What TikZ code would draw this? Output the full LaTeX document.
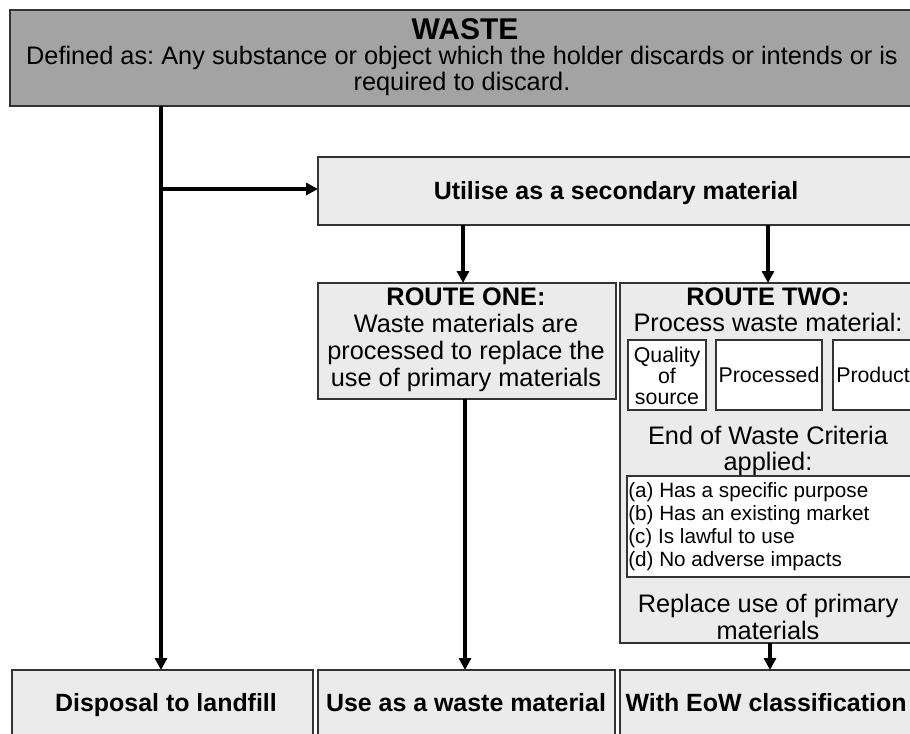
\documentclass[tikz,border=0pt]{standalone}
\usepackage{fontspec}
\setmainfont{Liberation Sans}
\usetikzlibrary{arrows.meta}
\definecolor{headgray}{HTML}{A3A3A3}
\definecolor{boxgray}{HTML}{EBEBEB}
\definecolor{edgegray}{HTML}{333333}
\tikzset{
  panel/.style={draw=edgegray, line width=1.2pt, fill=boxgray},
  headpanel/.style={draw=edgegray, line width=1.2pt, fill=headgray},
  whitebox/.style={draw=edgegray, line width=1.2pt, fill=white},
  flow/.style={line width=3.6pt, -{Triangle[width=9pt,length=9pt]}},
  plain/.style={inner sep=0pt, align=center},
  big/.style={font=\fontsize{19}{19.8}\selectfont},
  bigbold/.style={font=\bfseries\fontsize{18.7}{20}\selectfont},
  small/.style={font=\fontsize{16}{16}\selectfont},
}
\begin{document}
\frenchspacing
\begin{tikzpicture}[x=0.75pt,y=-0.75pt]
\useasboundingbox (0,0) rectangle (910,733);
\clip (0,0) rectangle (910,733);

% boxes
\path[headpanel] (10,10) rectangle (915,106);
\path[panel] (318,157) rectangle (915,225);
\path[panel] (318,283) rectangle (616,399);
\path[panel] (620,283) rectangle (915,643);
\path[whitebox] (628,340) rectangle (706,410);
\path[whitebox] (716,340) rectangle (822,410);
\path[whitebox] (833,340) rectangle (915,410);
\path[whitebox] (627,476) rectangle (915,577);
\path[panel] (12,670) rectangle (313,740);
\path[panel] (318,670) rectangle (615,740);
\path[panel] (620,670) rectangle (915,740);

% anchors for connectors
\coordinate (wasteB) at (161,106);
\coordinate (branch) at (161,189);
\coordinate (utilL) at (318,189);
\coordinate (utilB1) at (463,225);
\coordinate (utilB2) at (768,225);
\coordinate (r1T) at (463,283);
\coordinate (r2T) at (768,283);
\coordinate (r1B) at (465,399);
\coordinate (r2B) at (770,643);
\coordinate (landT) at (161,670);
\coordinate (useT) at (465,670);
\coordinate (eowT) at (770,670);

% texts
\node[plain, font=\bfseries\fontsize{22.5}{23}\selectfont, anchor=base] (waste) at (465,39) {WASTE};
\node[plain, font=\fontsize{19}{19.5}\selectfont, anchor=base] (def) at (462,90) {Defined as: Any substance or object which the holder discards or intends or is\\required to discard.};
\node[plain, bigbold] (util) at (616,193) {Utilise as a secondary material};
\node[plain, font=\fontsize{19}{20.3}\selectfont] (r1) at (466,340) {\textbf{ROUTE ONE:}\\Waste materials are\\processed to replace the\\use of primary materials};
\node[plain, big] (r2) at (768,310) {\textbf{ROUTE TWO:}\\Process waste material:};
\node[plain, small] (qual) at (667,376) {Quality\\of\\source};
\node[plain, small] (proc) at (769,375) {Processed};
\node[plain, small, anchor=west] (prod) at (836,375) {Product};
\node[plain, big] (eowc) at (768,451) {End of Waste Criteria\\applied:};
\node[plain, font=\fontsize{15.5}{17.25}\selectfont, anchor=north west, align=left] (crit) at (628,482) {(a) Has a specific purpose\\(b) Has an existing market\\(c) Is lawful to use\\(d) No adverse impacts};
\node[plain, big] (repl) at (768,617) {Replace use of primary\\materials};
\node[plain, bigbold, anchor=base] (land) at (166,711) {Disposal to landfill};
\node[plain, bigbold, anchor=base] (use) at (466,711) {Use as a waste material};
\node[plain, bigbold, anchor=base] (eow) at (766,711) {With EoW classification};

% connectors
\draw[flow] (wasteB) -- (landT);
\draw[flow] (branch) -- (utilL);
\draw[flow] (utilB1) -- (r1T);
\draw[flow] (utilB2) -- (r2T);
\draw[flow] (r1B) -- (useT);
\draw[flow] (r2B) -- (eowT);
\end{tikzpicture}
\end{document}
